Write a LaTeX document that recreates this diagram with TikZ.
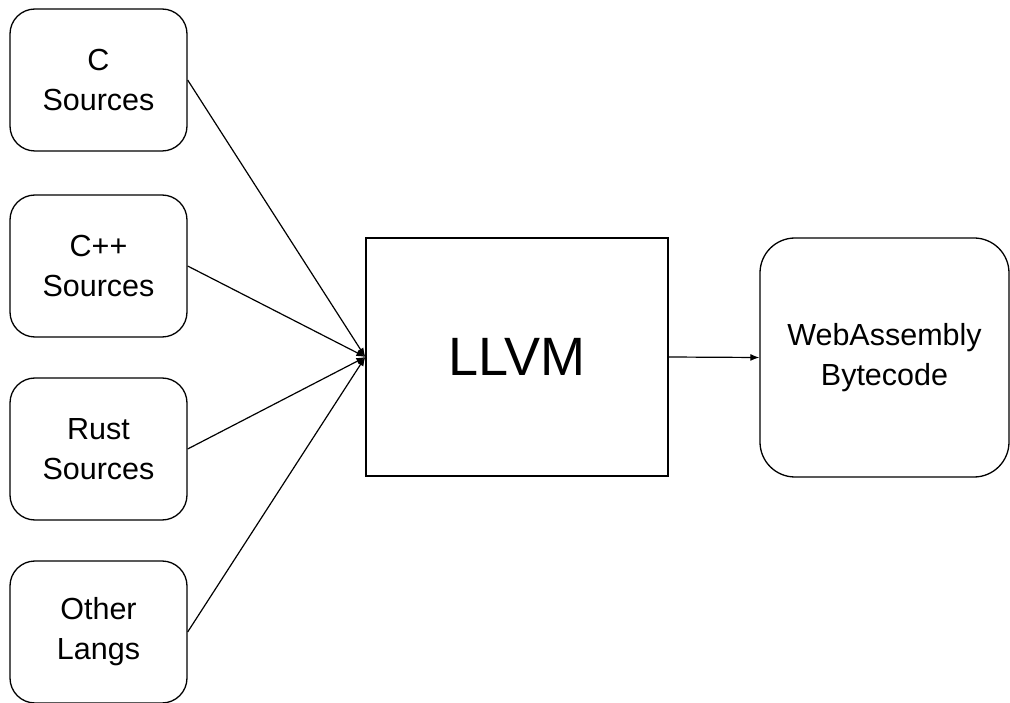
\documentclass[tikz,border=0pt]{standalone}
\usepackage{fontspec}
\setmainfont{Liberation Sans}
\usetikzlibrary{arrows.meta}

\begin{document}
\begin{tikzpicture}[x=1pt, y=-1pt,
    src/.style={draw, line width=1.3pt, rounded corners=25pt, minimum width=177pt, minimum height=142pt, align=center, font=\fontsize{30.5}{40}\selectfont},
    arr/.style={line width=1.2pt, -{Latex[length=9pt, width=7pt]}}]
    \useasboundingbox (0, 0) rectangle (1010, 703);

    \node[src] (csrc) at (98.5, 80) {C\\Sources};
    \node[src] (cppsrc) at (98.5, 266) {C++\\Sources};
    \node[src] (rustsrc) at (98.5, 449) {Rust\\Sources};
    \node[src] (othersrc) at (98.5, 632) {Other\\Langs};

    \node[draw, line width=1.3pt, minimum width=302pt, minimum height=238pt, font=\fontsize{54}{60}\selectfont] (llvm) at (517, 357) {LLVM};
    \node[src, rounded corners=35pt, minimum width=249pt, minimum height=239pt] (wasm) at (884.5, 357.5) {WebAssembly\\Bytecode};

    \draw[arr] (csrc.east) -- (llvm.west);
    \draw[arr] (cppsrc.east) -- (llvm.west);
    \draw[arr] (rustsrc.east) -- (llvm.west);
    \draw[arr] (othersrc.east) -- (llvm.west);
    \draw[arr] (llvm.east) -- (wasm.west);
\end{tikzpicture}
\end{document}
